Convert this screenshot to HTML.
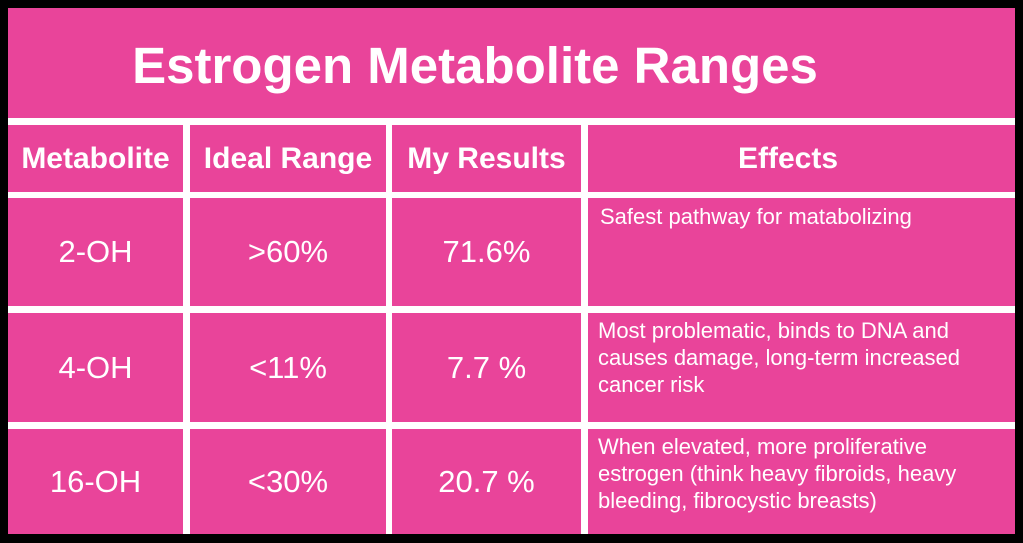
<!DOCTYPE html>
<html><head><style>
html,body{margin:0;padding:0;background:#000;}
#c{position:relative;width:1023px;height:543px;background:#000;overflow:hidden;font-family:"Liberation Sans",Arial,sans-serif;color:#fff;}
.p{position:absolute;background:#E9449A;}
.t{position:absolute;white-space:nowrap;}
.ctr{display:flex;align-items:center;justify-content:center;}
</style></head><body><div id="c">
<div class="p" style="left:8px;top:8px;width:1007px;height:526px;"></div>
<div style="position:absolute;left:8px;top:118px;width:1007px;height:7px;background:#fff"></div>
<div style="position:absolute;left:8px;top:192px;width:1007px;height:6px;background:#fff"></div>
<div style="position:absolute;left:8px;top:306px;width:1007px;height:7px;background:#fff"></div>
<div style="position:absolute;left:8px;top:422px;width:1007px;height:7px;background:#fff"></div>
<div style="position:absolute;left:183px;top:125px;width:7px;height:409px;background:#fff"></div>
<div style="position:absolute;left:386px;top:125px;width:6px;height:409px;background:#fff"></div>
<div style="position:absolute;left:581px;top:125px;width:7px;height:409px;background:#fff"></div>

<div class="t ctr" style="left:8px;top:30px;width:934px;height:70px;font-weight:bold;font-size:51px;">Estrogen Metabolite Ranges</div>

<div class="t ctr" style="left:8px;top:125px;width:175px;height:67px;font-weight:bold;font-size:30px;">Metabolite</div>
<div class="t ctr" style="left:190px;top:125px;width:196px;height:67px;font-weight:bold;font-size:30px;">Ideal Range</div>
<div class="t ctr" style="left:392px;top:125px;width:189px;height:67px;font-weight:bold;font-size:30px;">My Results</div>
<div class="t ctr" style="left:588px;top:125px;width:400px;height:67px;font-weight:bold;font-size:30px;">Effects</div>

<div class="t ctr" style="left:8px;top:198px;width:175px;height:108px;font-size:31px;">2-OH</div>
<div class="t ctr" style="left:190px;top:198px;width:196px;height:108px;font-size:31px;">&gt;60%</div>
<div class="t ctr" style="left:392px;top:198px;width:189px;height:108px;font-size:31px;">71.6%</div>

<div class="t ctr" style="left:8px;top:313px;width:175px;height:109px;font-size:31px;">4-OH</div>
<div class="t ctr" style="left:190px;top:313px;width:196px;height:109px;font-size:31px;">&lt;11%</div>
<div class="t ctr" style="left:392px;top:313px;width:189px;height:109px;font-size:31px;">7.7 %</div>

<div class="t ctr" style="left:8px;top:429px;width:175px;height:105px;font-size:31px;">16-OH</div>
<div class="t ctr" style="left:190px;top:429px;width:196px;height:105px;font-size:31px;">&lt;30%</div>
<div class="t ctr" style="left:392px;top:429px;width:189px;height:105px;font-size:31px;">20.7 %</div>

<div class="t" style="left:600px;top:203px;font-size:22px;line-height:27px;">Safest pathway for matabolizing</div>
<div class="t" style="left:598px;top:317px;font-size:22px;line-height:27px;">Most problematic, binds to DNA and<br>causes damage, long-term increased<br>cancer risk</div>
<div class="t" style="left:598px;top:433px;font-size:22px;line-height:27px;">When elevated, more proliferative<br>estrogen (think heavy fibroids, heavy<br>bleeding, fibrocystic breasts)</div>
</div></body></html>
